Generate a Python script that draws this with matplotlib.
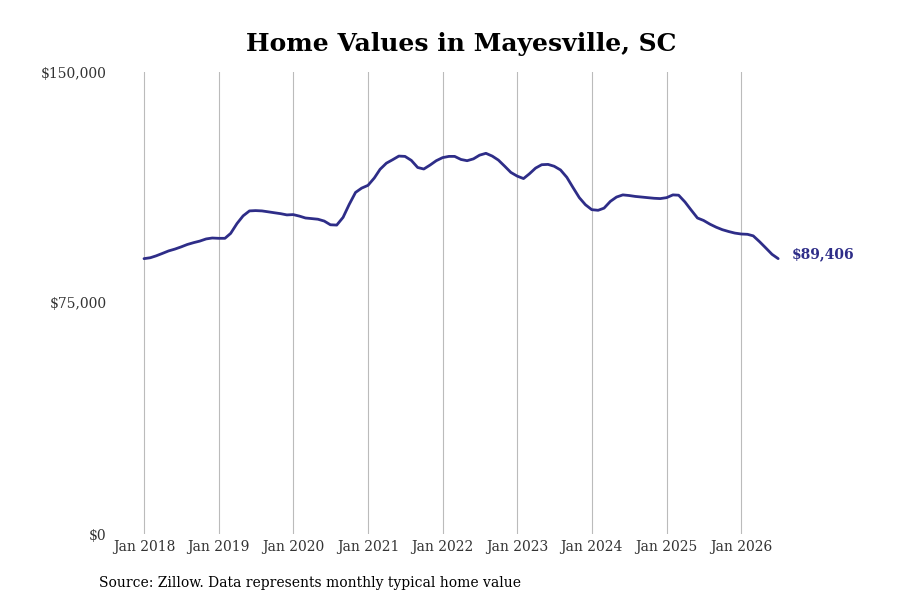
import matplotlib
matplotlib.use("Agg")
import matplotlib.pyplot as plt
import pandas as pd

# Monthly typical home value, Jan 2018 .. Jul 2026 (thousands of $)
values_k = [
    # 2018
    89.4, 89.7, 90.3, 91.1, 91.9, 92.5, 93.2, 94.0, 94.6, 95.1, 95.8, 96.1,
    # 2019
    96.0, 96.0, 97.6, 100.8, 103.3, 104.9, 105.0, 104.9, 104.6, 104.3, 104.0, 103.6,
    # 2020
    103.7, 103.2, 102.6, 102.4, 102.2, 101.6, 100.4, 100.3, 102.8, 107.0, 110.9, 112.3,
    # 2021
    113.2, 115.6, 118.4, 120.4, 121.5, 122.7, 122.6, 121.3, 119.0, 118.5, 119.8, 121.2,
    # 2022
    122.2, 122.6, 122.6, 121.6, 121.2, 121.8, 123.0, 123.6, 122.7, 121.4, 119.4, 117.4,
    # 2023
    116.2, 115.4, 116.9, 118.8, 119.9, 120.0, 119.4, 118.2, 115.8, 112.5, 109.2, 106.9,
    # 2024
    105.3, 105.1, 105.8, 108.0, 109.4, 110.1, 109.9, 109.6, 109.4, 109.2, 109.0, 108.9,
    # 2025
    109.2, 110.1, 110.0, 107.8, 105.2, 102.6, 101.8, 100.6, 99.6, 98.8, 98.2, 97.7,
    # 2026
    97.4, 97.3, 96.8, 94.9, 92.9, 90.8, 89.406,
]
dates = pd.date_range("2018-01-01", periods=len(values_k), freq="MS")
values = [v * 1000 for v in values_k]

tick_years = list(range(2018, 2027))
tick_dates = [pd.Timestamp(f"{y}-01-01") for y in tick_years]
tick_labels = [f"Jan {y}" for y in tick_years]
y_ticks = [0, 75000, 150000]
y_labels = ["$0", "$75,000", "$150,000"]

line_color = "#2e2d88"

plt.rcParams["font.family"] = ["DejaVu Serif"]
fig = plt.figure(figsize=(9, 6), dpi=100)
ax = fig.add_axes([0.1323, 0.11, 0.8293, 0.77])

ax.plot(dates, values, color=line_color, linewidth=2.0, solid_capstyle="round")
# end-of-line value label
ax.annotate(f"${values[-1]:,.0f}", xy=(dates[-1], values[-1]), xytext=(10, 3.5),
            textcoords="offset points", color=line_color, fontsize=10,
            fontweight="bold", va="center", ha="left")

ax.set_xlim(pd.Timestamp("2017-09-01"), pd.Timestamp("2027-09-01"))
ax.set_ylim(0, 150000)
ax.set_xticks(tick_dates)
ax.set_xticklabels(tick_labels)
ax.set_yticks(y_ticks)
ax.set_yticklabels(y_labels)
ax.tick_params(axis="both", length=0, labelsize=10, labelcolor="#333333")
ax.tick_params(axis="y", pad=9)
ax.tick_params(axis="x", pad=4)

ax.grid(axis="x", color="#bbbbbb", linewidth=0.8)
ax.set_axisbelow(True)
for s in ax.spines.values():
    s.set_visible(False)

fig.text(0.5122, 0.927, "Home Values in Mayesville, SC", ha="center", va="center",
         fontsize=18, fontweight="bold", color="black")
fig.text(0.11, 0.029, "Source: Zillow. Data represents monthly typical home value",
         ha="left", va="center", fontsize=10, color="black")

fig.savefig("out.png", dpi=100)
